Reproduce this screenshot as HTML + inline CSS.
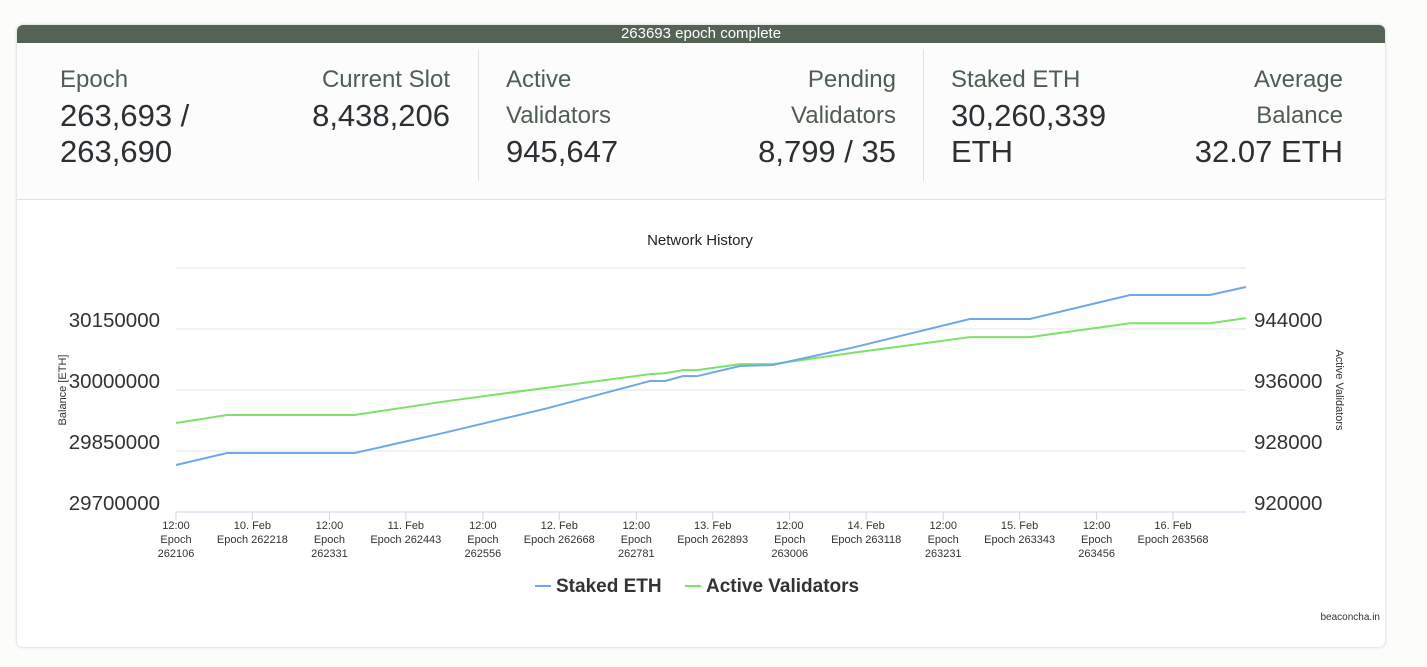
<!DOCTYPE html>
<html><head><meta charset="utf-8"><style>
body{margin:0;width:1427px;height:667px;background:#fcfcfa;font-family:"Liberation Sans",sans-serif;overflow:hidden;position:relative}
#card{position:absolute;left:17px;top:25px;width:1368px;height:622px;background:#fff;border-radius:6px;box-shadow:0 0 3px rgba(0,0,0,.2);overflow:hidden}
#bar{height:18px;background:#556357;color:#fff;text-align:center;font-size:15px;line-height:18px}
#stats{position:absolute;top:18px;left:0;width:1368px;height:156px;background:#fcfcfc;border-bottom:1px solid #dde2e6}
.item{position:absolute;top:19px;line-height:36px}
.lab{font-size:24px;color:#4f5e53}
.val{font-size:31px;color:#2c3033}
.div{position:absolute;top:6px;width:1px;height:132px;background:#dde2e6}
</style></head><body>
<div id="card">
<div id="bar">263693 epoch complete</div>
<div id="stats">
 <div class="item" style="left:43px"><div class="lab">Epoch</div><div class="val">263,693 /<br>263,690</div></div>
 <div class="item" style="right:935px;text-align:right"><div class="lab">Current Slot</div><div class="val">8,438,206</div></div>
 <div class="div" style="left:461px"></div>
 <div class="item" style="left:489px"><div class="lab">Active<br>Validators</div><div class="val">945,647</div></div>
 <div class="item" style="right:489px;text-align:right"><div class="lab">Pending<br>Validators</div><div class="val">8,799 / 35</div></div>
 <div class="div" style="left:906px"></div>
 <div class="item" style="left:934px"><div class="lab">Staked ETH</div><div class="val">30,260,339<br>ETH</div></div>
 <div class="item" style="right:42px;text-align:right"><div class="lab">Average<br>Balance</div><div class="val">32.07 ETH</div></div>
</div>
</div>
<svg id="chart" width="1427" height="667" style="position:absolute;left:0;top:0"></svg>
<script>
const epochs=[262106,262181,262368,262500,262650,262801,262823,262849,262870,262933,262981,263100,263270,263358,263505,263622,263675];
const stakedEth=[29815600,29845000,29845000,29895000,29955000,30022000,30022000,30034000,30034000,30059000,30061500,30105000,30174600,30174600,30233600,30233600,30253300];
const activeValidators=[931672,932720,932720,934500,936300,938080,938200,938600,938600,939400,939400,940900,942930,942930,944760,944760,945420];
const leftTicks=[29700000,29850000,30000000,30150000];
const rightTicks=[920000,928000,936000,944000];
const xTickEpochs=[262106,262218,262331,262443,262556,262668,262781,262893,263006,263118,263231,263343,263456,263568];
const xTickTop=["12:00","10. Feb","12:00","11. Feb","12:00","12. Feb","12:00","13. Feb","12:00","14. Feb","12:00","15. Feb","12:00","16. Feb"];
const X0=176,X1=1246,YB=512,YT=268;
const xs=e=>X0+(e-262106)*(X1-X0)/(263675-262106);
const yl=v=>YB-(v-29700000)*(YB-YT)/600000;
const yr=v=>YB-(v-920000)*(YB-YT)/32000;
const svg=document.getElementById('chart');const NS='http://www.w3.org/2000/svg';
function mk(t,a,txt){const e=document.createElementNS(NS,t);for(const k in a)e.setAttribute(k,a[k]);if(txt!==undefined)e.textContent=txt;svg.appendChild(e);return e;}
let el;
for(let i=0;i<5;i++){el=mk('line',{x1:X0,x2:X1,y1:yl(29700000+i*150000),y2:yl(29700000+i*150000),stroke:i?'#e6e6e6':'#ccd6eb'});

}
el=mk('text',{x:700,y:245,'text-anchor':'middle','font-size':15,fill:'#222'},'Network History');


leftTicks.forEach(v=>{el=mk('text',{x:160,y:yl(v)-2,'text-anchor':'end','font-size':20.5,fill:'#333'},v);

});
rightTicks.forEach(v=>{el=mk('text',{x:1254,y:yr(v)-2,'font-size':20.5,fill:'#333'},v);

});
el=mk('text',{transform:'translate(66,390) rotate(-90)','text-anchor':'middle','font-size':11,fill:'#333'},'Balance [ETH]');


el=mk('text',{transform:'translate(1336,390) rotate(90)','text-anchor':'middle','font-size':11,fill:'#333'},'Active Validators');


xTickEpochs.forEach((e,i)=>{const x=xs(e);mk('line',{x1:x,x2:x,y1:YB,y2:YB+8,stroke:'#ccd6eb'});
const lines=i%2?[xTickTop[i],'Epoch '+e]:[xTickTop[i],'Epoch',''+e];
lines.forEach((s,j)=>{el=mk('text',{x:x,y:YB+17+j*14,'text-anchor':'middle','font-size':11,fill:'#333'},s);

});});
el=mk('polyline',{points:epochs.map((e,i)=>xs(e)+','+yr(activeValidators[i])).join(' '),fill:'none',stroke:'#7be26a','stroke-width':2});


el=mk('polyline',{points:epochs.map((e,i)=>xs(e)+','+yl(stakedEth[i])).join(' '),fill:'none',stroke:'#6fa8e6','stroke-width':2});


mk('line',{x1:535,x2:551,y1:586,y2:586,stroke:'#6fa8e6','stroke-width':2});
el=mk('text',{x:556,y:592,'font-size':19,'font-weight':'bold',fill:'#333'},'Staked ETH');


mk('line',{x1:685,x2:701,y1:586,y2:586,stroke:'#7be26a','stroke-width':2});
el=mk('text',{x:706,y:592,'font-size':19,'font-weight':'bold',fill:'#333'},'Active Validators');


el=mk('text',{x:1380,y:620,'text-anchor':'end','font-size':10,fill:'#333'},'beaconcha.in');


</script>
</body></html>
